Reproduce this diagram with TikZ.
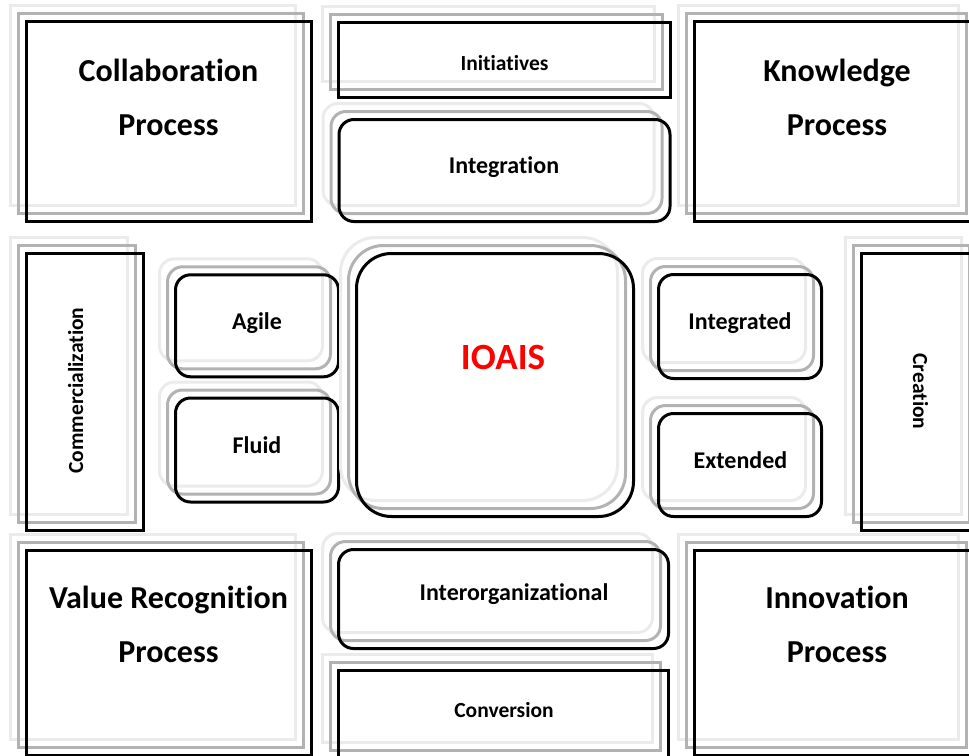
\documentclass[tikz,border=0pt]{standalone}
\usepackage{fontspec}
\setmainfont{Carlito}[Ligatures={NoCommon}]
\begin{document}
\begin{tikzpicture}[x=1pt,y=-1pt,
  tier/.style={draw=black, line width=3pt, inner sep=0pt, outer sep=0pt,
    preaction={draw=black!8, line width=3pt, transform canvas={shift={(-16pt,16pt)}}},
    preaction={draw=black!30, line width=3pt, transform canvas={shift={(-8pt,8pt)}}}},
  squarebox/.style={tier, rectangle},
  roundbox/.style={tier, rectangle, rounded corners=15pt},
  bigtext/.style={anchor=base, font=\bfseries\fontsize{32}{54}\selectfont, align=center, inner sep=0pt},
  smalltext/.style={anchor=base, font=\bfseries\fontsize{21.5}{24}\selectfont, inner sep=0pt},
  midtext/.style={anchor=base, font=\bfseries\fontsize{24}{28}\selectfont, inner sep=0pt},
  coretext/.style={anchor=base, font=\bfseries\fontsize{37}{42}\selectfont, text=red, inner sep=0pt}]

\useasboundingbox (0,0) rectangle (969,755);
\clip (0,0) rectangle (969,755);

% corner process boxes
\node[squarebox, minimum width=285pt, minimum height=200pt] (collab) at (169,121.3) {};
\node[squarebox, minimum width=280pt, minimum height=200pt] (know) at (834.5,121.3) {};
\node[squarebox, minimum width=285pt, minimum height=205pt] (value) at (169,653) {};
\node[squarebox, minimum width=280pt, minimum height=205pt] (innov) at (834.5,653) {};

% top and bottom bars
\node[squarebox, minimum width=332pt, minimum height=75pt] (init) at (504.5,60) {};
\node[roundbox, minimum width=331pt, minimum height=102pt] (integ) at (504.5,170.5) {};
\node[roundbox, minimum width=330pt, minimum height=99pt] (inter) at (503.5,599) {};
\node[squarebox, minimum width=330pt, minimum height=88pt] (conv) at (503.5,714) {};

% side columns
\node[squarebox, minimum width=117pt, minimum height=277pt] (comm) at (85,392) {};
\node[squarebox, minimum width=116pt, minimum height=277pt] (creat) at (919.5,392) {};

% attribute boxes around the core
\node[roundbox, minimum width=163pt, minimum height=102pt] (agile) at (257,325.8) {};
\node[roundbox, minimum width=163pt, minimum height=104pt] (fluid) at (257,450) {};
\node[roundbox, minimum width=163pt, minimum height=104pt] (integd) at (740,326.5) {};
\node[roundbox, minimum width=163pt, minimum height=103pt] (ext) at (740,465) {};

% core
\node[tier, rectangle, rounded corners=35pt, minimum width=277pt, minimum height=263pt] (core) at (495,385) {};

% labels (base anchor sits on the second line)
\node[bigtext] (collab-t) at (168.5,135) {Collaboration\\Process};
\node[bigtext] (know-t) at (837,135) {Knowledge\\Process};
\node[bigtext] (value-t) at (168.5,662) {Value Recognition\\Process};
\node[bigtext] (innov-t) at (837,662) {Innovation\\Process};

\node[smalltext] (init-t) at (504.5,70) {Initiatives};
\node[midtext] (integ-t) at (504,173) {Integration};
\node[midtext] (inter-t) at (514,600) {Interorganizational};
\node[smalltext] (conv-t) at (504,717) {Conversion};

\node[midtext] (agile-t) at (257,329) {Agile};
\node[midtext] (fluid-t) at (257,453) {Fluid};
\node[midtext] (integd-t) at (740,329) {Integrated};
\node[midtext] (ext-t) at (740.5,468) {Extended};

\node[smalltext, rotate=90] (comm-t) at (83,390.5) {Commercialization};
\node[smalltext, rotate=-90] (creat-t) at (913,391.5) {Creation};

\node[coretext] (core-t) at (503,369) {IOAIS};
\end{tikzpicture}
\end{document}
